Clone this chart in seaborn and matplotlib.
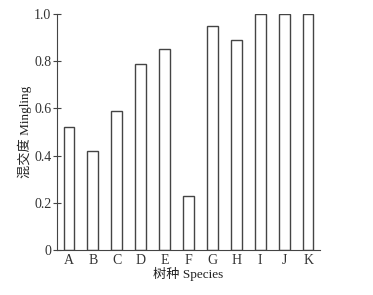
import matplotlib
matplotlib.use("Agg")
import matplotlib.pyplot as plt
import seaborn as sns
import pandas as pd

species = ["A", "B", "C", "D", "E", "F", "G", "H", "I", "J", "K"]
mingling = [0.52, 0.42, 0.59, 0.79, 0.85, 0.23, 0.95, 0.89, 1.0, 1.0, 1.0]
yticks = [0, 0.2, 0.4, 0.6, 0.8, 1.0]
ytick_labels = ["0", "0.2", "0.4", "0.6", "0.8", "1.0"]

sns.set_theme(style="ticks")
plt.rcParams['font.family'] = ['Liberation Serif', 'Noto Sans CJK SC']

df = pd.DataFrame({"species": species, "mingling": mingling})

fig = plt.figure(figsize=(3.73, 2.95), dpi=100)
ax = fig.add_axes([57/373, 1 - 250/295, 263/373, 236/295])
sns.barplot(data=df, x="species", y="mingling", ax=ax, width=0.45,
            color="white", edgecolor="#444444", linewidth=1.0)
ax.set_xlim(-0.5, 10.5)
ax.set_ylim(0, 1.0)
ax.set_yticks(yticks)
ax.set_yticklabels(ytick_labels)
ax.tick_params(axis='y', direction='inout', length=6, width=0.8, colors="#444444",
               labelsize=10, labelcolor="#333333", pad=1)
ax.tick_params(axis='x', length=0, labelsize=10, labelcolor="#333333", pad=3)
for s in ["top", "right"]:
    ax.spines[s].set_visible(False)
for s in ["left", "bottom"]:
    ax.spines[s].set_color("#444444")
    ax.spines[s].set_linewidth(0.8)
ax.set_xlabel("树种 Species", fontsize=9.5, color="#222222",
              family=['Liberation Serif', 'Noto Sans CJK SC'])
ax.set_ylabel("混交度 Mingling", fontsize=9.5, color="#222222",
              family=['Liberation Serif', 'Noto Sans CJK SC'])
ax.yaxis.set_label_coords((25 - 57) / 263, 0.5)
ax.xaxis.set_label_coords(0.5, (250 - 274) / 236)
ax.xaxis.label.set_va("center")
ax.yaxis.label.set_va("center")
fig.savefig("out.png", dpi=100)
